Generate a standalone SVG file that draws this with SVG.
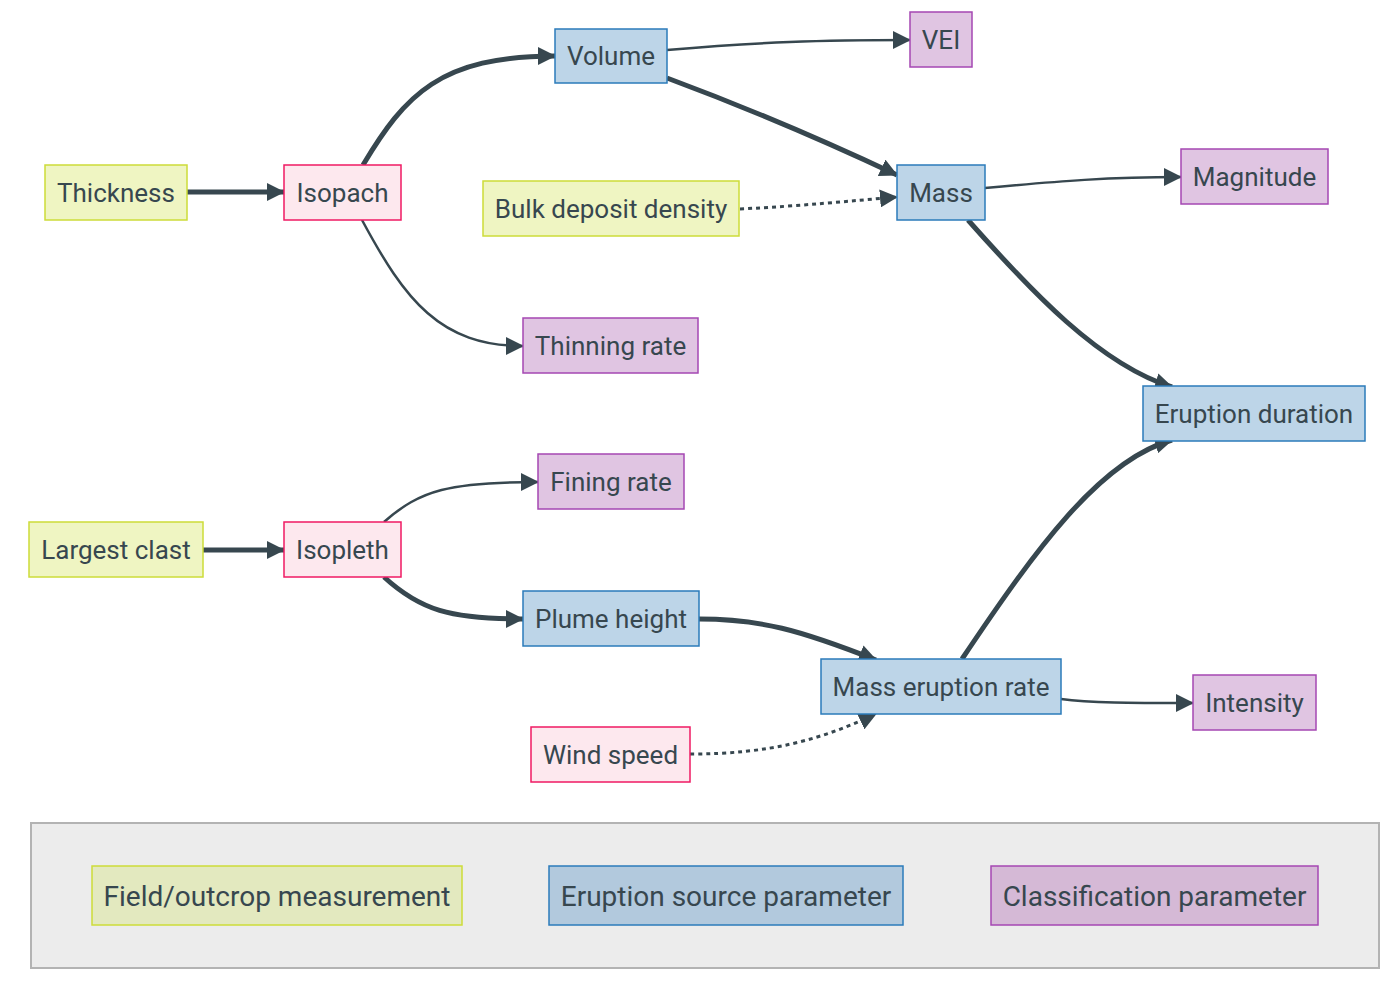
<svg xmlns="http://www.w3.org/2000/svg" width="1396" height="990" viewBox="0 0 1396 990">
<style>
text{font-family:Roboto,"Liberation Sans",sans-serif;font-size:26px;fill:#37474f;text-anchor:middle}
.lg text{font-size:28px}
.g rect{fill:#eff5c2;stroke:#cddc39;stroke-width:1.5}
.p rect{fill:#fde8ee;stroke:#ef1a63;stroke-width:1.5}
.b rect{fill:#bdd5e8;stroke:#2b7bba;stroke-width:1.5}
.v rect{fill:#e0c5e2;stroke:#a547b3;stroke-width:1.5}
#connectors path{fill:none;stroke:#37474f}
.thick{stroke-width:5}
.thin{stroke-width:2.5}
.dot{stroke-width:3;stroke-dasharray:4 4}
</style>
<defs>
<marker id="ah" markerUnits="userSpaceOnUse" markerWidth="18" markerHeight="18" viewBox="0 0 18 18" refX="17" refY="9" orient="auto">
<path d="M0,0 L18,9 L0,18 Z" fill="#37474f"/>
</marker>
</defs>
<rect width="1396" height="990" fill="#ffffff"/>
<g id="connectors">
<path class="thick" d="M187,192 L284,192" marker-end="url(#ah)"/>
<path class="thick" d="M363,165 C405,95 440,56 555,56" marker-end="url(#ah)"/>
<path class="thin" d="M362,220 C405,300 440,346 523,346" marker-end="url(#ah)"/>
<path class="thin" d="M667,50 C760,42 820,40 910,40" marker-end="url(#ah)"/>
<path class="thick" d="M667,78 Q780,120 897,175" marker-end="url(#ah)"/>
<path class="dot" d="M740,209 C800,206 850,201 897,197" marker-end="url(#ah)"/>
<path class="thin" d="M985,188 C1060,181 1110,177 1181,177" marker-end="url(#ah)"/>
<path class="thick" d="M968,220 C1030,290 1100,365 1172,387" marker-end="url(#ah)"/>
<path class="thick" d="M962,659 C1035,550 1100,460 1172,440" marker-end="url(#ah)"/>
<path class="thick" d="M203,550 L284,550" marker-end="url(#ah)"/>
<path class="thin" d="M384,522 C420,490 450,482 538,482" marker-end="url(#ah)"/>
<path class="thick" d="M384,577 C420,610 450,619 523,619" marker-end="url(#ah)"/>
<path class="thick" d="M699,619 C760,619 800,630 876,660" marker-end="url(#ah)"/>
<path class="dot" d="M690,754 C770,754 820,740 876,714" marker-end="url(#ah)"/>
<path class="thin" d="M1061,699 C1090,703 1130,703 1193,703" marker-end="url(#ah)"/>
</g>
<g id="thickness" class="g"><rect x="45" y="165" width="142" height="55"/><text x="116" y="201.5">Thickness</text></g>
<g id="isopach" class="p"><rect x="284" y="165" width="117" height="55"/><text x="342.5" y="201.5">Isopach</text></g>
<g id="volume" class="b"><rect x="555" y="29" width="112" height="54"/><text x="611" y="65">Volume</text></g>
<g id="vei" class="v"><rect x="910" y="12" width="62" height="55"/><text x="941" y="48.5">VEI</text></g>
<g id="mass" class="b"><rect x="897" y="165" width="88" height="55"/><text x="941" y="201.5">Mass</text></g>
<g id="magnitude" class="v"><rect x="1181" y="149" width="147" height="55"/><text x="1254.5" y="185.5">Magnitude</text></g>
<g id="bulk" class="g"><rect x="483" y="181" width="256" height="55"/><text x="611" y="217.5">Bulk deposit density</text></g>
<g id="thinning" class="v"><rect x="523" y="318" width="175" height="55"/><text x="610.5" y="354.5">Thinning rate</text></g>
<g id="duration" class="b"><rect x="1143" y="386" width="222" height="55"/><text x="1254" y="422.5">Eruption duration</text></g>
<g id="fining" class="v"><rect x="538" y="454" width="146" height="55"/><text x="611" y="490.5">Fining rate</text></g>
<g id="largest" class="g"><rect x="29" y="522" width="174" height="55"/><text x="116" y="558.5">Largest clast</text></g>
<g id="isopleth" class="p"><rect x="284" y="522" width="117" height="55"/><text x="342.5" y="558.5">Isopleth</text></g>
<g id="plume" class="b"><rect x="523" y="591" width="176" height="55"/><text x="611" y="627.5">Plume height</text></g>
<g id="mer" class="b"><rect x="821" y="659" width="240" height="55"/><text x="941" y="695.5">Mass eruption rate</text></g>
<g id="intensity" class="v"><rect x="1193" y="675" width="123" height="55"/><text x="1254.5" y="711.5">Intensity</text></g>
<g id="wind" class="p"><rect x="531" y="727" width="159" height="55"/><text x="610.5" y="763.5">Wind speed</text></g>
<g id="legend" class="lg">
<rect x="31" y="823" width="1348" height="145" fill="#ececec" stroke="#b3b3b3" stroke-width="2"/>
<g id="legend-field"><rect x="92" y="866" width="370" height="59" fill="#e3e9bf" stroke="#cddc39" stroke-width="1.5"/><text x="277" y="905.5">Field/outcrop measurement</text></g>
<g id="legend-esp"><rect x="549" y="866" width="354" height="59" fill="#b2c9dd" stroke="#2b7bba" stroke-width="1.5"/><text x="726" y="905.5">Eruption source parameter</text></g>
<g id="legend-class"><rect x="991" y="866" width="327" height="59" fill="#d5b9d6" stroke="#a547b3" stroke-width="1.5"/><text x="1154.5" y="905.5">Classification parameter</text></g>
</g>
</svg>
